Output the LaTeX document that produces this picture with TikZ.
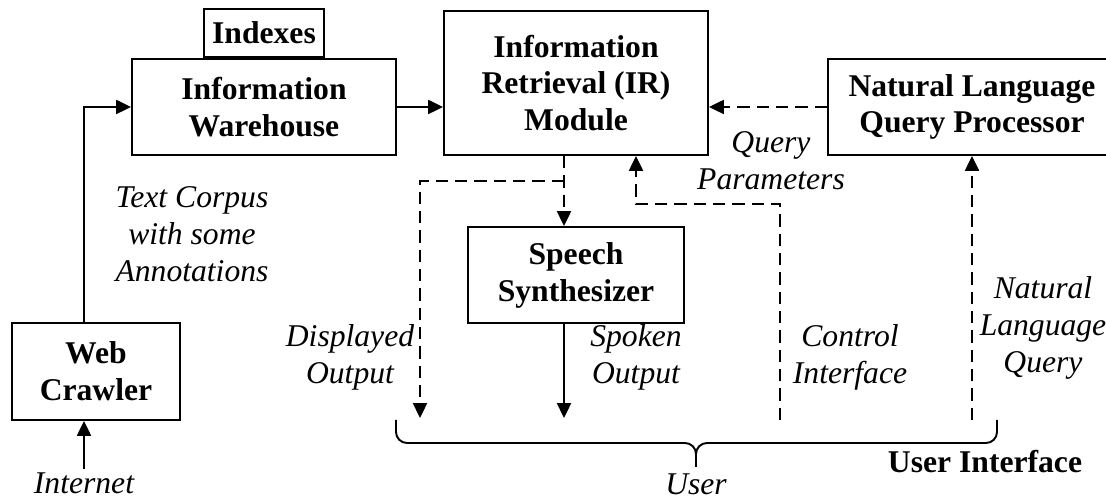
\documentclass[tikz,border=0pt]{standalone}
\usepackage{fontspec}
\setmainfont{Liberation Serif}
\usetikzlibrary{arrows.meta,positioning,calc}

\begin{document}
\begin{tikzpicture}[
  >={Triangle[length=8.5pt,width=8pt]},
  box/.style={draw,line width=1.1pt,inner sep=0pt,align=center,
              font=\fontsize{18}{21}\selectfont\bfseries},
  lbl/.style={align=center,inner sep=1pt,
              font=\fontsize{18}{21}\selectfont\itshape},
  link/.style={->,line width=1.1pt},
  dlink/.style={->,line width=1.1pt,dash pattern=on 7pt off 4pt},
  bracehalf/.style={line width=1.1pt,rounded corners=0.22cm}
]
\useasboundingbox (0,0) rectangle (22.12,10);
\clip (0,0) rectangle (22.12,10);

%% ── Blocks (absolute coordinates) ──
\node[box,minimum width=5.28cm,minimum height=1.92cm]
             (iw)   at (5.28,7.86)  {Information\\Warehouse};
\node[box,minimum width=2.4cm,minimum height=0.96cm,above=0pt of iw]
             (idx)                  {Indexes};
\node[box,minimum width=5.28cm,minimum height=2.88cm]
             (ir)   at (11.52,8.34) {Information\\Retrieval (IR)\\Module};
\node[box,minimum width=5.76cm,minimum height=1.92cm]
             (nlqp) at (19.44,7.86) {Natural Language\\Query Processor};
\node[box,minimum width=4.32cm,minimum height=1.92cm]
             (ss)   at (11.52,4.50) {Speech\\Synthesizer};
\node[box,minimum width=3.36cm,minimum height=1.94cm]
             (wc)   at (1.92,2.57)  {Web\\Crawler};

%% ── Labels ──
\node[lbl] (corpus) at (3.84,5.32)  {Text Corpus\\with some\\Annotations};
\node[lbl] (inet)   at (1.68,0.33)  {Internet};
\node[lbl] (qpar)   at (15.42,6.78) {Query\\Parameters};
\node[lbl] (dout)   at (7.00,2.86)  {Displayed\\Output};
\node[lbl] (sout)   at (12.72,2.86) {Spoken\\Output};
\node[lbl] (cif)    at (17.00,2.86) {Control\\Interface};
\node[lbl] (nlq)    at (20.86,3.44) {Natural\\Language\\Query};
\node[lbl] (user)   at (13.92,0.31) {User};
\node[box,draw=none] (ui) at (19.70,0.76) {User Interface};

%% ── Free ends ──
\coordinate (wcout) at ($(wc.north)+(-0.24,0)$);
\coordinate (irout) at ($(ir.south)+(-0.24,0)$);
\coordinate (irin)  at ($(ir.south)+(1.20,0)$);
\coordinate (dspend) at (8.40,1.64);
\coordinate (spkend) at (11.28,1.64);
\coordinate (ctlend) at (15.60,1.60);
\coordinate (nlqend) at (19.44,1.60);
\coordinate (brl)  at (7.92,1.60);
\coordinate (brr)  at (19.94,1.60);
\coordinate (utip) at (13.92,0.66);

%% ── Forward path ──
\draw[link] (inet.north) ++(0,0.04) -- (wc.south -| wcout);
\draw[link] (wcout) |- (iw.west);
\draw[link] (iw.east) -- (ir.west |- iw.east);
\draw[dlink] (nlqp.west) -- (ir.east |- nlqp.west);

%% ── Outputs from IR module ──
\draw[dlink] (irout) -- (irout |- ss.north);
\draw[dlink] ($(irout)+(0,-0.5)$) -| (dspend);
\draw[link] (ss.south -| irout) -- (spkend);

%% ── Inputs from the user ──
\draw[dlink] (ctlend) |- ($(irin)+(0,-0.96)$) -- (irin);
\draw[dlink] (nlqend) -- (nlqp.south);

%% ── User brace (two halves meeting at the tip) ──
\draw[bracehalf] (brl) |- ($(utip)+(0,0.48)$) -- (utip);
\draw[bracehalf] (brr) |- ($(utip)+(0,0.48)$) -- (utip);

\end{tikzpicture}
\end{document}
